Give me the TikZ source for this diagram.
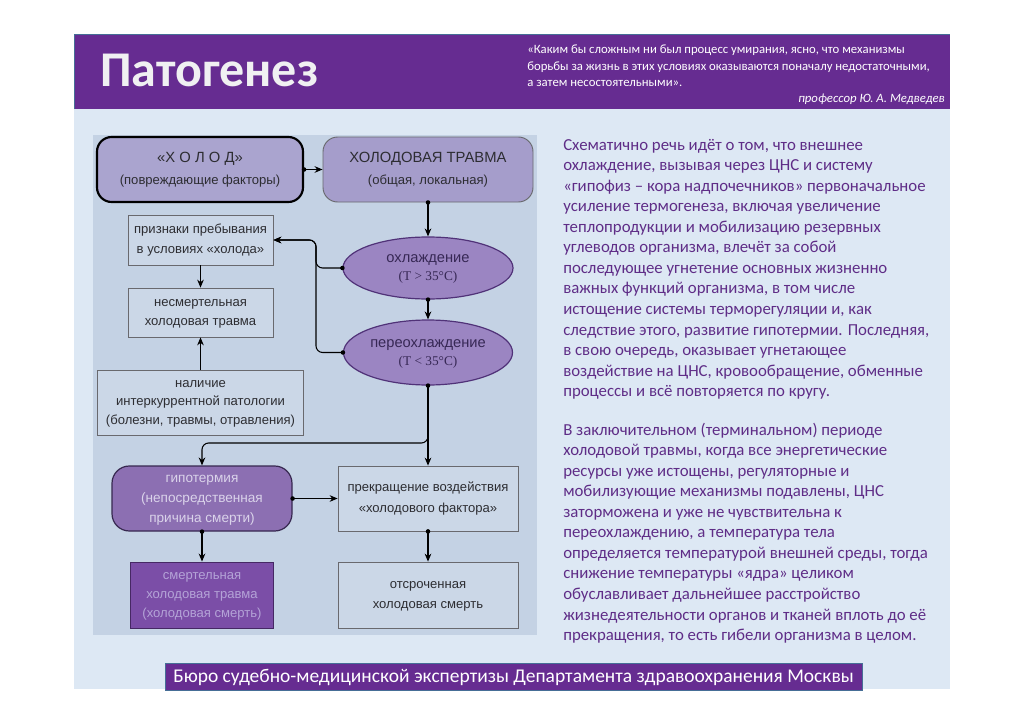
\documentclass[tikz,border=0pt]{standalone}
\usepackage{fontspec}
\setmainfont{Carlito}
\newfontfamily\diafont{Liberation Sans}
\newfontfamily\serfont{Liberation Serif}
\usetikzlibrary{shapes.geometric,arrows.meta}
\definecolor{hdr}{RGB}{102,44,145}
\definecolor{hdrline}{RGB}{70,110,150}
\definecolor{panelbg}{RGB}{221,232,244}
\definecolor{diabg}{RGB}{196,210,228}
\definecolor{plainfill}{RGB}{203,215,231}
\definecolor{plainline}{RGB}{105,105,110}
\definecolor{lavA}{RGB}{170,164,207}
\definecolor{lavB}{RGB}{165,157,203}
\definecolor{ellfill}{RGB}{155,133,194}
\definecolor{ellline}{RGB}{80,50,120}
\definecolor{gipfill}{RGB}{140,111,178}
\definecolor{giptext}{RGB}{218,211,234}
\definecolor{smfill}{RGB}{123,78,167}
\definecolor{smtext}{RGB}{180,163,215}
\definecolor{bodytext}{RGB}{95,45,135}
\definecolor{darktext}{RGB}{45,45,50}
\newcommand\topst{\rule{0pt}{0.78em}}
\newcommand\botst{\rule[-0.26em]{0pt}{0.26em}}
\tikzset{
  diatext/.style={font=\diafont\fontsize{9.8}{14.5}\selectfont, align=center, inner sep=0pt, text=darktext},
  plainbox/.style={diatext, draw=plainline, line width=0.6pt, fill=plainfill},
  lavbox/.style={diatext, rounded corners=11pt, font=\diafont\fontsize{9.8}{16.5}\selectfont},
  ovalnode/.style={ellipse, diatext, draw=ellline, line width=0.9pt, fill=ellfill, font=\diafont\fontsize{11}{13.5}\selectfont, text={rgb,255:red,55;green,40;blue,85}},
  conn/.style={draw=black, line width=0.8pt, -{Stealth[length=6pt,width=5pt]}},
  dotmark/.style={circle, fill=black, inner sep=0pt, minimum size=3.4pt},
  bodyline/.style={anchor=base west, inner sep=0pt, text=bodytext, font=\fontsize{12.6}{15}\selectfont},
  quoteline/.style={inner sep=0pt, text=white, font=\fontsize{9.55}{12}\selectfont},
}
\newcommand\pxd[1]{#1*0.75pt}
\begin{document}
\begin{tikzpicture}[x=0.75pt,y=-0.75pt]
\useasboundingbox (0,0) rectangle (1024,724);
\fill[white] (0,0) rectangle (1024,724);
% panel and header
\fill[panelbg] (74,34) rectangle (950,689);
\fill[hdr] (74,34) rectangle (950,109);
\draw[hdrline, line width=0.5pt] (74,109) -- (74,34) -- (950,34);
\node[anchor=base west, inner sep=0pt, text={rgb,255:red,240;green,240;blue,242}, font=\bfseries\fontsize{37.5}{40}\selectfont] (title) at (100,87) {Патогенез};
\node[quoteline, anchor=base west] (q1) at (527,54) {«Каким бы сложным ни был процесс умирания, ясно, что механизмы};
\node[quoteline, anchor=base west] (q2) at (527,71) {борьбы за жизнь в этих условиях оказываются поначалу недостаточными,};
\node[quoteline, anchor=base west] (q3) at (527,87) {а затем несостоятельными».};
\node[quoteline, anchor=base east, font=\itshape\fontsize{9.55}{12}\selectfont] (q4) at (945,103) {профессор Ю. А. Медведев};
% diagram background
\fill[diabg] (93,135) rectangle (537,635);
% nodes
\node[lavbox, draw=black, line width=1.6pt, fill=lavA, minimum width=\pxd{206}, minimum height=\pxd{65}] (cold) at (200,169.5)
  {{\fontsize{11.1}{16.5}\selectfont\topst «Х О Л О Д»}\\(повреждающие факторы)\botst};
\node[lavbox, draw=plainline, line width=0.7pt, fill=lavB, minimum width=\pxd{210}, minimum height=\pxd{65}] (trauma) at (428,169.5)
  {{\fontsize{11.1}{16.5}\selectfont\topst ХОЛОДОВАЯ ТРАВМА}\\(общая, локальная)\botst};
\node[plainbox, minimum width=\pxd{145}, minimum height=\pxd{50}] (prizn) at (200.5,240)
  {\topst признаки пребывания\\в условиях «холода»\botst};
\node[plainbox, minimum width=\pxd{145}, minimum height=\pxd{49}] (nesm) at (200.5,312.5)
  {\topst несмертельная\\холодовая травма\botst};
\node[plainbox, font=\diafont\fontsize{9.8}{14}\selectfont, minimum width=\pxd{206}, minimum height=\pxd{65}] (nalich) at (200.5,402.5)
  {\topst наличие\\интеркуррентной патологии\\(болезни, травмы, отравления)\botst};
\node[ovalnode, minimum width=\pxd{170}, minimum height=\pxd{62}] (ohl) at (428,268)
  {\topst охлаждение\\{\serfont\fontsize{10}{13.5}\selectfont (T > 35°C)\botst}};
\node[ovalnode, minimum width=\pxd{169}, minimum height=\pxd{65}] (pereohl) at (428,352.5)
  {\topst переохлаждение\\{\serfont\fontsize{10}{13.5}\selectfont (T < 35°C)\botst}};
\node[diatext, rounded corners=13pt, draw={rgb,255:red,55;green,40;blue,80}, line width=0.9pt, fill=gipfill, text=giptext, font=\diafont\fontsize{10.2}{15}\selectfont, minimum width=\pxd{180}, minimum height=\pxd{65}] (gip) at (202,498.5)
  {\topst гипотермия\\(непосредственная\\причина смерти)\botst};
\node[plainbox, font=\diafont\fontsize{9.8}{16}\selectfont, minimum width=\pxd{180}, minimum height=\pxd{65}] (prek) at (428,498.5)
  {\topst прекращение воздействия\\«холодового фактора»\botst};
\node[diatext, draw={rgb,255:red,70;green,40;blue,100}, line width=0.7pt, fill=smfill, text=smtext, minimum width=\pxd{143}, minimum height=\pxd{66}] (smert) at (202,595)
  {\topst смертельная\\холодовая травма\\(холодовая смерть)\botst};
\node[plainbox, minimum width=\pxd{180}, minimum height=\pxd{66}] (otsr) at (428,595)
  {\topst отсроченная\\холодовая смерть\botst};
% connectors
\coordinate (jn) at (316,240);
\coordinate (br) at (202,443);
\draw[conn] (cold.east) -- (trauma.west);
\draw[conn] (trauma.south) -- (ohl.north);
\draw[conn] (ohl.south) -- (pereohl.north);
\draw[conn] (pereohl.south) -- (prek.north);
\draw[conn, rounded corners=5pt] (pereohl.south) |- (br) -- (gip.north);
\draw[conn, rounded corners=5pt] (ohl.west) -| (jn) -- (prizn.east);
\draw[conn, rounded corners=5pt] (pereohl.west) -| (jn) -- (prizn.east);
\draw[conn] (prizn.south) -- (nesm.north);
\draw[conn] (nalich.north) -- (nesm.south);
\draw[conn] (gip.east) -- (prek.west);
\draw[conn] (gip.south) -- (smert.north);
\draw[conn] (prek.south) -- (otsr.north);
% start dots
\node[dotmark] (d1) at (cold.east) {};
\node[dotmark] (d2) at (trauma.south) {};
\node[dotmark] (d3) at (ohl.west) {};
\node[dotmark] (d4) at (ohl.south) {};
\node[dotmark] (d5) at (pereohl.west) {};
\node[dotmark] (d6) at (pereohl.south) {};
\node[dotmark] (d7) at (gip.east) {};
\node[dotmark] (d8) at (gip.south) {};
\node[dotmark] (d9) at (prek.south) {};
% body text
\foreach \t [count=\i] in {
{Схематично речь идёт о том, что внешнее},
{охлаждение, вызывая через ЦНС и систему},
{«гипофиз – кора надпочечников» первоначальное},
{усиление термогенеза, включая увеличение},
{теплопродукции и мобилизацию резервных},
{углеводов организма, влечёт за собой},
{последующее угнетение основных жизненно},
{важных функций организма, в том числе},
{истощение системы терморегуляции и, как},
{следствие этого, развитие гипотермии. Последняя,},
{в свою очередь, оказывает угнетающее},
{воздействие на ЦНС, кровообращение, обменные},
{процессы и всё повторяется по кругу.}}
  \node[bodyline] (pa\i) at (563,{150+20.57*(\i-1)}) {\t};
\foreach \t [count=\i] in {
{В заключительном (терминальном) периоде},
{холодовой травмы, когда все энергетические},
{ресурсы уже истощены, регуляторные и},
{мобилизующие механизмы подавлены, ЦНС},
{заторможена и уже не чувствительна к},
{переохлаждению, а температура тела},
{определяется температурой внешней среды, тогда},
{снижение температуры «ядра» целиком},
{обуславливает дальнейшее расстройство},
{жизнедеятельности органов и тканей вплоть до её},
{прекращения, то есть гибели организма в целом.}}
  \node[bodyline] (pb\i) at (563,{435+20.57*(\i-1)}) {\t};
% footer
\draw[fill=hdr, draw=hdrline, line width=0.5pt] (165,663) rectangle (862,690);
\node[inner sep=0pt, text=white, font=\fontsize{14.6}{18}\selectfont] (footer) at (513.5,677) {Бюро судебно-медицинской экспертизы Департамента здравоохранения Москвы};
\end{tikzpicture}
\end{document}
